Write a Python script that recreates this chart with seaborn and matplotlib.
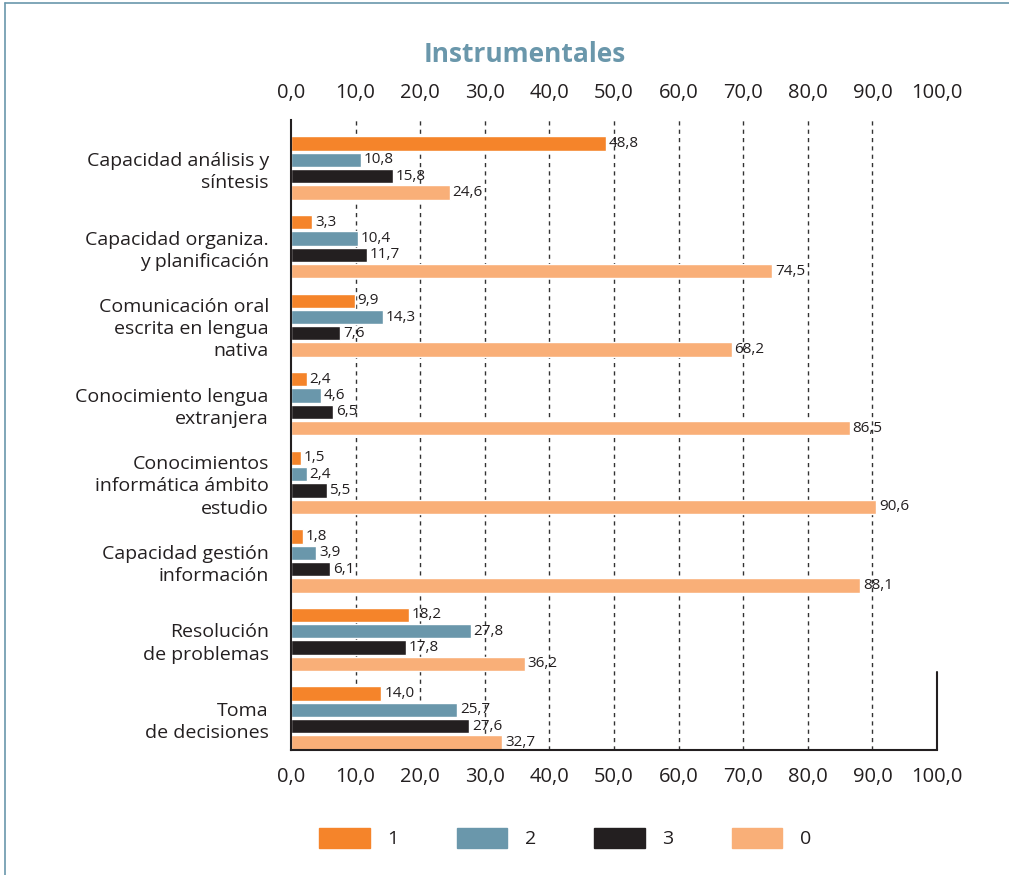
import matplotlib
matplotlib.use("Agg")
import matplotlib.pyplot as plt
from matplotlib.lines import Line2D
import seaborn as sns
import pandas as pd

categories = [
    "Capacidad análisis y\nsíntesis",
    "Capacidad organiza.\ny planificación",
    "Comunicación oral\nescrita en lengua\nnativa",
    "Conocimiento lengua\nextranjera",
    "Conocimientos\ninformática ámbito\nestudio",
    "Capacidad gestión\ninformación",
    "Resolución\nde problemas",
    "Toma\nde decisiones",
]
series_names = ["1", "2", "3", "0"]
values_1 = [48.8, 3.3, 9.9, 2.4, 1.5, 1.8, 18.2, 14.0]
values_2 = [10.8, 10.4, 14.3, 4.6, 2.4, 3.9, 27.8, 25.7]
values_3 = [15.8, 11.7, 7.6, 6.5, 5.5, 6.1, 17.8, 27.6]
values_0 = [24.6, 74.5, 68.2, 86.5, 90.6, 88.1, 36.2, 32.7]
x_ticks = [0, 10, 20, 30, 40, 50, 60, 70, 80, 90, 100]
title = "Instrumentales"

colors = ["#F5842A", "#6A97AB", "#231F20", "#F9AF78"]

series = [values_1, values_2, values_3, values_0]
rows = []
for name, vals in zip(series_names, series):
    for c, v in zip(categories, vals):
        rows.append({"cat": c, "serie": name, "val": v})
df = pd.DataFrame(rows)

sns.set_style("white")
plt.rcParams["font.family"] = ["Open Sans", "DejaVu Sans"]
text_col = "#231F20"

fig = plt.figure(figsize=(10.09, 8.75), dpi=100)
ax = fig.add_axes([291 / 1009, 1 - 750 / 875, (937 - 291) / 1009, 630 / 875])

sns.barplot(data=df, y="cat", x="val", hue="serie", order=categories,
            hue_order=series_names, palette=colors, orient="h",
            width=0.83, gap=0.12, saturation=1, ax=ax, legend=False)

ax.set_xlim(0, 100)
ax.set_ylim(7.407, -0.611)

for xt in x_ticks[1:-1]:
    ax.axvline(xt, color="#333333", lw=1.0, ls=(0, (3, 3)), zorder=0)

for cont, vals in zip(ax.containers, series):
    ax.bar_label(cont, labels=[f"{v:.1f}".replace(".", ",") for v in vals],
                 padding=2, fontsize=11, color=text_col)

ax.set_xticks(x_ticks)
ax.set_xticklabels([f"{t:.1f}".replace(".", ",") for t in x_ticks])
ax.tick_params(axis="x", labeltop=True, top=False, bottom=False, length=0,
               pad=12, labelsize=14.5, labelcolor=text_col)
ax.tick_params(axis="y", length=0, pad=16, labelsize=14, labelcolor=text_col)
for lab in ax.get_yticklabels():
    lab.set_linespacing(1.3)
ax.set_xlabel("")
ax.set_ylabel("")

for s in ["top", "right"]:
    ax.spines[s].set_visible(False)
for s in ["left", "bottom"]:
    ax.spines[s].set_color(text_col)
    ax.spines[s].set_linewidth(1.5)
ax.plot([1, 1], [0, 0.124], transform=ax.transAxes, color=text_col, lw=1.5,
        clip_on=False)

fig.text(525 / 1009, 1 - 55 / 875, title, ha="center", va="center",
         fontsize=19, fontweight="bold", color="#6A97AB")

handles = [plt.Rectangle((0, 0), 1, 1, color=c) for c in colors]
fig.legend(handles, series_names, loc="center", ncol=4,
           bbox_to_anchor=(565 / 1009, 1 - 838 / 875), frameon=False,
           fontsize=14, handlelength=2.6, handleheight=1.25,
           handletextpad=0.9, columnspacing=3.0, labelcolor=text_col)

fig.add_artist(Line2D([5 / 1009, 1], [1 - 3 / 875, 1 - 3 / 875],
                      transform=fig.transFigure, color="#6A97AB", lw=1.2))
fig.add_artist(Line2D([5 / 1009, 5 / 1009], [0, 1 - 3 / 875],
                      transform=fig.transFigure, color="#6A97AB", lw=1.2))

fig.savefig("out.png", dpi=100)
